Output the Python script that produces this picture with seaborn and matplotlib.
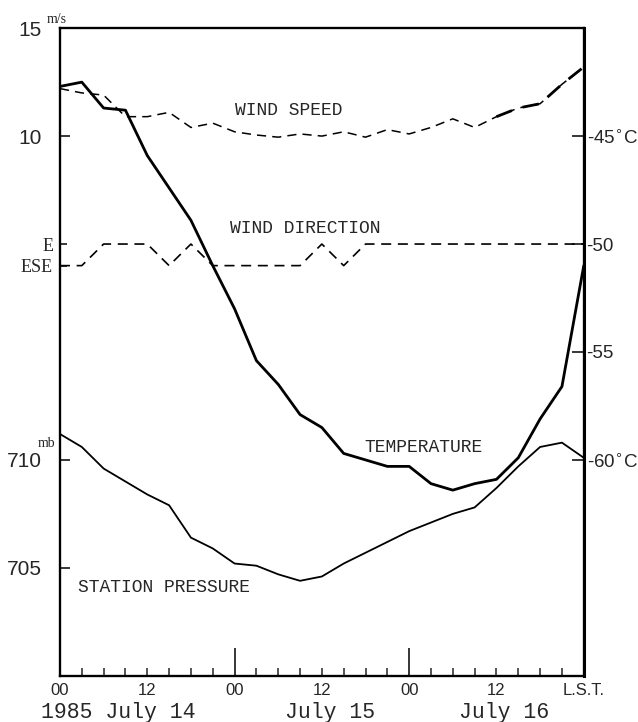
import matplotlib
matplotlib.use("Agg")
import matplotlib.pyplot as plt
import pandas as pd
import seaborn as sns

sns.set_theme(style="ticks")
plt.rcParams["font.family"] = ["Liberation Sans Narrow", "Liberation Sans", "DejaVu Sans"]

# 3-hourly observations, 00 LST July 14 to 00 LST July 17, 1985
hours = list(range(0, 73, 3))
temperature = [-42.7, -42.5, -43.7, -43.8, -45.9, -47.4, -48.9, -51.0, -53.0,
               -55.4, -56.5, -57.9, -58.5, -59.7, -60.0, -60.3, -60.3, -61.1,
               -61.4, -61.1, -60.9, -59.9, -58.1, -56.6, -51.0]
pressure = [711.2, 710.6, 709.6, 709.0, 708.4, 707.9, 706.4, 705.9, 705.2,
            705.1, 704.7, 704.4, 704.6, 705.2, 705.7, 706.2, 706.7, 707.1,
            707.5, 707.8, 708.7, 709.7, 710.6, 710.8, 710.1]
wind_speed = [12.2, 12.0, 11.9, 10.9, 10.9, 11.1, 10.4, 10.6, 10.2, 10.05,
              9.95, 10.1, 10.0, 10.2, 9.95, 10.3, 10.1, 10.4, 10.8, 10.4,
              10.9, 11.3, 11.5, 12.4, 13.2]
wind_dir = ["ESE", "ESE", "E", "E", "E", "ESE", "E", "ESE", "ESE", "ESE",
            "ESE", "ESE", "E", "ESE", "E", "E", "E", "E", "E", "E",
            "E", "E", "E", "E", "E"]
compass = {"E": 90.0, "ESE": 112.5}

df = pd.DataFrame({"hour": hours, "temperature": temperature,
                   "pressure": pressure, "wind_speed": wind_speed,
                   "wind_dir": wind_dir})
df["dir_deg"] = df["wind_dir"].map(compass)

mono = "Liberation Mono"
serif = "Liberation Serif"

fig = plt.figure(figsize=(6.38, 7.22), dpi=100)
ax = fig.add_axes([0.094, 0.064, 0.821, 0.897])
ax_t = ax.twinx()
ax_ws = ax.twinx()
ax_wd = ax.twinx()

dash = (0, (6, 4))
sns.lineplot(data=df, x="hour", y="pressure", ax=ax, color="black", lw=1.3)
sns.lineplot(data=df, x="hour", y="temperature", ax=ax_t, color="black", lw=2.0)
sns.lineplot(data=df, x="hour", y="wind_speed", ax=ax_ws, color="black",
             lw=1.1, linestyle=dash)
sns.lineplot(data=df[df["hour"] >= 60], x="hour", y="wind_speed", ax=ax_ws,
             color="black", lw=2.0, linestyle=dash)
sns.lineplot(data=df, x="hour", y="dir_deg", ax=ax_wd, color="black",
             lw=1.2, linestyle=dash)

ax.set_xlim(0, 72)
ax.set_ylim(700, 730)
ax_t.set_ylim(-70, -40)
ax_ws.set_ylim(-15, 15)
ax_wd.set_ylim(540, -135)

for a in (ax, ax_t, ax_ws, ax_wd):
    a.set_xlabel("")
    a.set_ylabel("")
    for s in a.spines.values():
        s.set_linewidth(1.5)
        s.set_color("black")
ax_t.spines["right"].set_linewidth(2.2)

# left axis: pressure
ax.set_yticks([705, 710])
ax.set_yticklabels(["705", "710"])
ax.tick_params(axis="y", direction="in", length=7, width=1.3, labelsize=15, pad=13)

# left axis: wind speed
ax_ws.yaxis.tick_left()
ax_ws.yaxis.set_label_position("left")
ax_ws.set_yticks([10, 15])
ax_ws.set_yticklabels(["10", "15"])
ax_ws.tick_params(axis="y", direction="in", length=7, width=1.3, labelsize=15, pad=13)

# left axis: wind direction
ax_wd.yaxis.tick_left()
ax_wd.yaxis.set_label_position("left")
ax_wd.set_yticks([compass["E"], compass["ESE"]])
ax_wd.set_yticklabels(["E", "ESE"], fontfamily=serif)
ax_wd.tick_params(axis="y", direction="in", length=5, width=1.3, labelsize=13, pad=5)

# right axis: temperature
ax_t.set_yticks([-45, -50, -55, -60])
ax_t.set_yticklabels(["-45$^{\\circ}$C", "-50", "-55", "-60$^{\\circ}$C"])
ax_t.tick_params(axis="y", direction="in", length=9, width=1.3, labelsize=13.5, pad=2)

# time axis
ax.set_xticks([24, 48])
ax.set_xticklabels(["00", "00"])
ax.set_xticks([0, 3, 6, 9, 12, 15, 18, 21, 27, 30, 33, 36, 39, 42, 45,
               51, 54, 57, 60, 63, 66, 69, 72], minor=True)
ax.set_xticklabels(["00", "", "", "", "12", "", "", "", "", "", "", "12",
                    "", "", "", "", "", "", "12", "", "", "", "L.S.T."], minor=True)
ax.tick_params(axis="x", which="major", direction="in", length=20, width=1.3,
               labelsize=12, pad=5)
ax.tick_params(axis="x", which="minor", direction="in", length=6, width=1.1,
               labelsize=12, pad=5, bottom=True)

# unit marks
ax_ws.annotate("m/s", xy=(0, 15), xytext=(-9.5, 6), textcoords="offset points",
               ha="left", va="center", fontsize=10, fontfamily=serif)
ax.annotate("mb", xy=(0, 710), xytext=(-10, 12), textcoords="offset points",
            ha="center", va="center", fontsize=10, fontfamily=serif)

# series names
ax.text(0.334, 0.873, "WIND SPEED", transform=ax.transAxes, fontsize=13,
        fontfamily=mono, va="center")
ax.text(0.324, 0.690, "WIND DIRECTION", transform=ax.transAxes, fontsize=13,
        fontfamily=mono, va="center")
ax.text(0.582, 0.353, "TEMPERATURE", transform=ax.transAxes, fontsize=13,
        fontfamily=mono, va="center")
ax.text(0.034, 0.137, "STATION PRESSURE", transform=ax.transAxes, fontsize=13,
        fontfamily=mono, va="center")

# dates under the time axis
xt = ax.get_xaxis_transform()
for hx, lab in [(8.0, "1985 July 14"), (37.1, "July 15"), (61.0, "July 16")]:
    ax.text(hx, -0.056, lab, transform=xt, ha="center", va="center",
            fontsize=15.5, fontfamily=mono)

fig.savefig("out.png", dpi=100)
